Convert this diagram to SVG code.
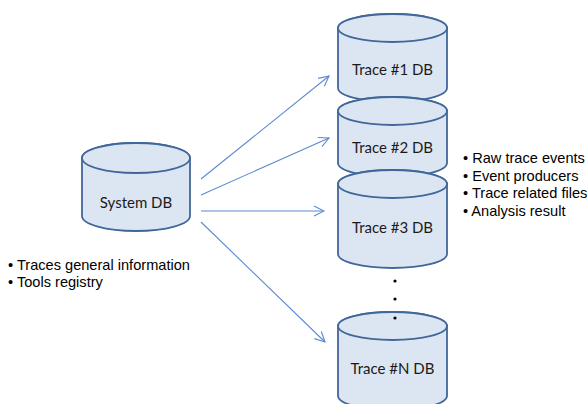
<svg xmlns="http://www.w3.org/2000/svg" width="587" height="404" viewBox="0 0 587 404">
<style>
.cyl{fill:#dce6f2;stroke:#41679a;stroke-width:1.8}
.lbl{font-family:Lato,"Open Sans",sans-serif;font-size:15px;fill:#1a1a1a;text-anchor:middle}
.bul{font-family:"Liberation Sans",Arial,sans-serif;font-size:14.6px;fill:#000}
.con{stroke:#5b8ad0;stroke-width:1.1;fill:none;marker-end:url(#ah)}
</style>
<defs>
<marker id="ah" viewBox="0 0 12 12" refX="11" refY="6" markerWidth="12" markerHeight="12" markerUnits="userSpaceOnUse" orient="auto">
<path d="M1,1 L11,6 L1,11" fill="none" stroke="#5b8ad0" stroke-width="1.1"/>
</marker>
</defs>
<rect width="587" height="404" fill="#fff"/>
<g id="connectors">
<line class="con" x1="201" y1="179" x2="329" y2="76"/>
<line class="con" x1="201" y1="195" x2="329" y2="138"/>
<line class="con" x1="201" y1="211" x2="324" y2="211"/>
<line class="con" x1="201" y1="222" x2="325" y2="342"/>
</g>
<g id="system-db">
<path class="cyl" d="M82,158 V216 A54,15 0 0 0 190,216 V158 A54,15 0 0 0 82,158 Z"/>
<ellipse class="cyl" cx="136" cy="158" rx="54" ry="15"/>
<text class="lbl" x="136" y="208">System DB</text>
</g>
<g id="trace1-db">
<path class="cyl" d="M338,28 V88 A54.5,14 0 0 0 447,88 V28 A54.5,14 0 0 0 338,28 Z"/>
<ellipse class="cyl" cx="392.5" cy="28" rx="54.5" ry="14"/>
<text class="lbl" x="392.5" y="75">Trace #1 DB</text>
</g>
<g id="trace2-db">
<path class="cyl" d="M338,111 V163 A54.5,14 0 0 0 447,163 V111 A54.5,14 0 0 0 338,111 Z"/>
<ellipse class="cyl" cx="392.5" cy="111" rx="54.5" ry="14"/>
<text class="lbl" x="392.5" y="153">Trace #2 DB</text>
</g>
<g id="trace3-db">
<path class="cyl" d="M338,184 V254 A54.5,14 0 0 0 447,254 V184 A54.5,14 0 0 0 338,184 Z"/>
<ellipse class="cyl" cx="392.5" cy="184" rx="54.5" ry="14"/>
<text class="lbl" x="392.5" y="233">Trace #3 DB</text>
</g>
<g id="ellipsis">
<circle cx="395" cy="281" r="1.6" fill="#000"/>
<circle cx="395" cy="299" r="1.6" fill="#000"/>
</g>
<g id="traceN-db">
<path class="cyl" d="M338,326 V396 A54.5,14 0 0 0 447,396 V326 A54.5,14 0 0 0 338,326 Z"/>
<ellipse class="cyl" cx="392.5" cy="326" rx="54.5" ry="14"/>
<circle cx="395" cy="318" r="1.6" fill="#000"/>
<text class="lbl" x="392.5" y="374">Trace #N DB</text>
</g>
<g id="trace-contents">
<text class="bul" x="463" y="163">• Raw trace events</text>
<text class="bul" x="463" y="181">• Event producers</text>
<text class="bul" x="463" y="198">• Trace related files</text>
<text class="bul" x="463" y="216">• Analysis result</text>
</g>
<g id="system-contents">
<text class="bul" x="8" y="270">• Traces general information</text>
<text class="bul" x="8" y="287">• Tools registry</text>
</g>
</svg>
